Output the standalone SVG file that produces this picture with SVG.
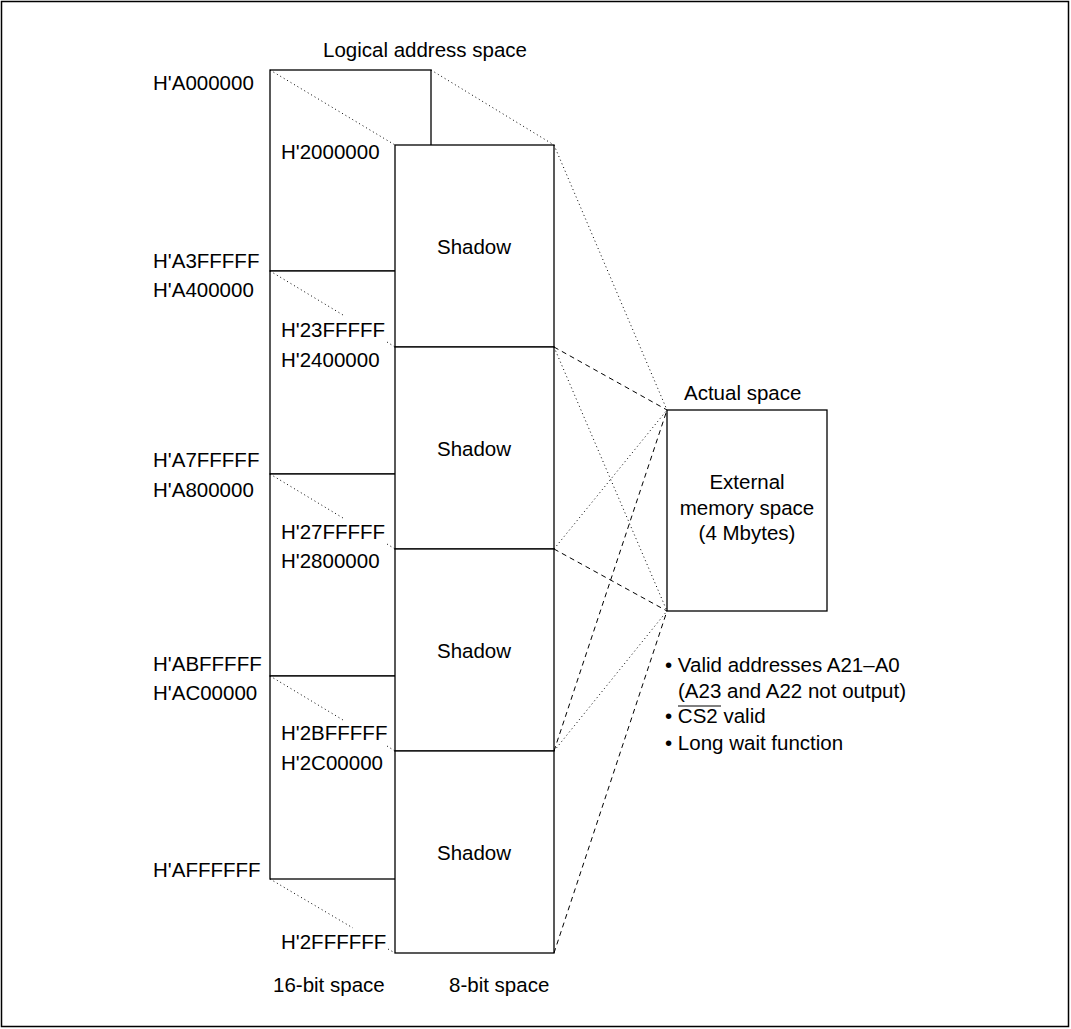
<svg xmlns="http://www.w3.org/2000/svg" width="1071" height="1029" viewBox="0 0 1071 1029">
<style>
text{font-family:"Liberation Sans",Arial,sans-serif;font-size:20.5px;fill:#000}
.box{fill:#fff;stroke:#000;stroke-width:1.3}
.dot{stroke:#000;stroke-width:1;stroke-dasharray:1 3;fill:none}
.dash{stroke:#000;stroke-width:1;stroke-dasharray:5 4;fill:none}
.mid{text-anchor:middle}
</style>
<rect x="1.5" y="1.5" width="1067" height="1025" fill="#fff" stroke="#000" stroke-width="1.5"/>
<text x="323" y="57">Logical address space</text>
<g id="b16-1"><rect class="box" x="270" y="70" width="161" height="201"/></g>
<g id="b16-2"><rect class="box" x="270" y="271" width="161" height="203"/></g>
<g id="b16-3"><rect class="box" x="270" y="474" width="161" height="202"/></g>
<g id="b16-4"><rect class="box" x="270" y="676" width="161" height="203"/></g>
<g id="s1"><rect class="box" x="395" y="145" width="159" height="202"/><text class="mid" x="474" y="254">Shadow</text></g>
<g id="s2"><rect class="box" x="395" y="347" width="159" height="202"/><text class="mid" x="474" y="456">Shadow</text></g>
<g id="s3"><rect class="box" x="395" y="549" width="159" height="202"/><text class="mid" x="474" y="658">Shadow</text></g>
<g id="s4"><rect class="box" x="395" y="751" width="159" height="202"/><text class="mid" x="474" y="860">Shadow</text></g>
<g id="actual">
<text x="684" y="400">Actual space</text>
<rect class="box" x="667" y="410" width="160" height="201"/>
<text class="mid" x="747" y="489">External</text>
<text class="mid" x="747" y="515">memory space</text>
<text class="mid" x="747" y="540">(4 Mbytes)</text>
</g>
<g id="labels">
<text x="153" y="90">H'A000000</text>
<text x="281" y="159">H'2000000</text>
<text x="153" y="268">H'A3FFFFF</text>
<text x="153" y="297">H'A400000</text>
<text x="281" y="337">H'23FFFFF</text>
<text x="281" y="367">H'2400000</text>
<text x="153" y="467">H'A7FFFFF</text>
<text x="153" y="497">H'A800000</text>
<text x="281" y="539">H'27FFFFF</text>
<text x="281" y="568">H'2800000</text>
<text x="153" y="671">H'ABFFFFF</text>
<text x="153" y="700">H'AC00000</text>
<text x="281" y="740">H'2BFFFFF</text>
<text x="281" y="770">H'2C00000</text>
<text x="153" y="877">H'AFFFFFF</text>
<text x="281" y="949">H'2FFFFFF</text>
<text x="273" y="992">16-bit space</text>
<text x="449" y="992">8-bit space</text>
</g>
<g id="notes">
<text x="665" y="672">• Valid addresses A21–A0</text>
<text x="678" y="698">(A23 and A22 not output)</text>
<text x="665" y="723">• CS2 valid</text>
<line x1="678" y1="706" x2="721" y2="706" stroke="#000" stroke-width="1"/>
<text x="665" y="750">• Long wait function</text>
</g>
<g id="connectors">
<line class="dot" x1="270" y1="70" x2="395" y2="145"/>
<line class="dot" x1="431" y1="70" x2="554" y2="145"/>
<line class="dot" x1="270" y1="271" x2="343" y2="315"/>
<line class="dot" x1="387" y1="342" x2="395" y2="347"/>
<line class="dot" x1="270" y1="474" x2="343" y2="518"/>
<line class="dot" x1="387" y1="544" x2="395" y2="549"/>
<line class="dot" x1="270" y1="676" x2="343" y2="720"/>
<line class="dot" x1="387" y1="746" x2="395" y2="751"/>
<line class="dot" x1="270" y1="879" x2="353" y2="928"/>
<line class="dot" x1="388" y1="949" x2="395" y2="953"/>
<line class="dot" x1="554" y1="145" x2="667" y2="410"/>
<line class="dot" x1="554" y1="347" x2="667" y2="611"/>
<line class="dash" x1="554" y1="347" x2="667" y2="410"/>
<line class="dash" x1="554" y1="549" x2="667" y2="611"/>
<line class="dot" x1="554" y1="549" x2="667" y2="410"/>
<line class="dot" x1="554" y1="751" x2="667" y2="611"/>
<line class="dash" x1="554" y1="751" x2="667" y2="410"/>
<line class="dash" x1="554" y1="953" x2="667" y2="611"/>
</g>
</svg>
